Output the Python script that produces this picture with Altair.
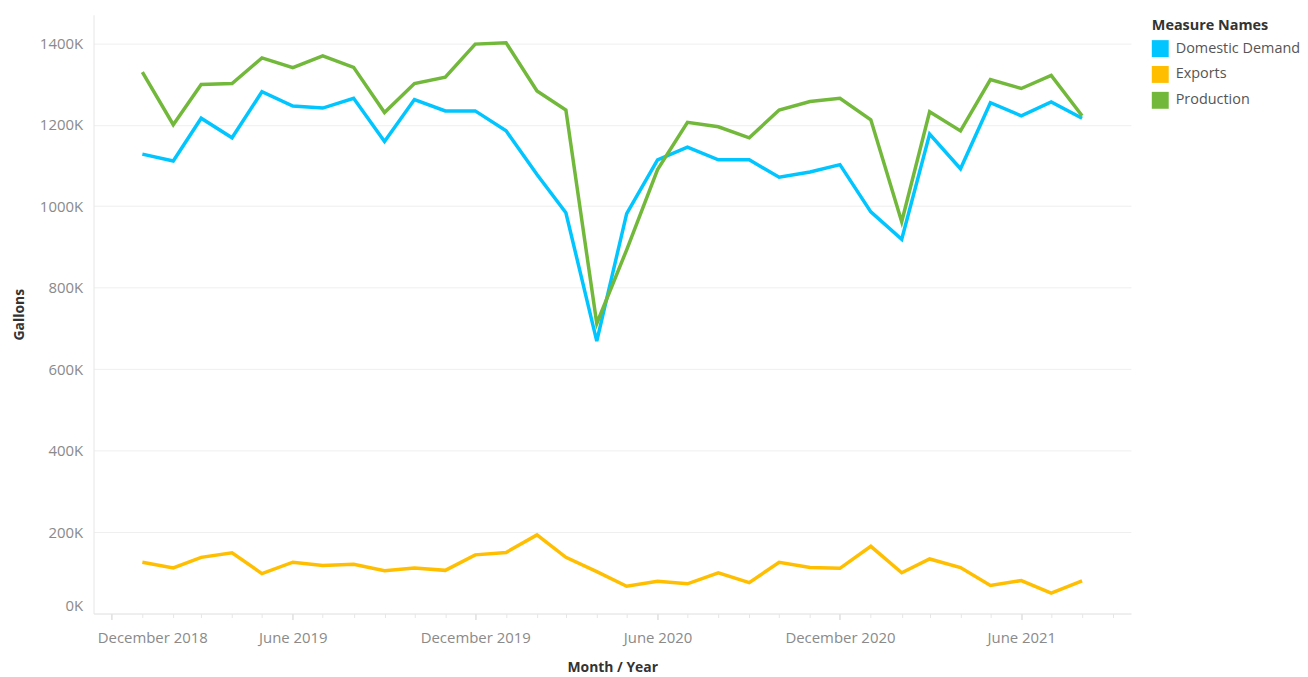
import altair as alt
import pandas as pd

months = pd.date_range("2019-01-01", "2021-08-01", freq="MS").strftime("%Y-%m-%d").tolist()

domestic_demand = [1128, 1111, 1216, 1168, 1281, 1246, 1241, 1265, 1159, 1262, 1234, 1234,
                   1185, 1078, 984, 669, 982, 1114, 1145, 1114, 1114, 1071, 1084, 1102,
                   986, 919, 1177, 1092, 1254, 1222, 1256, 1216]
exports = [126, 112, 138, 149, 98, 126, 118, 121, 105, 112, 106, 144,
           150, 193, 138, 103, 67, 79, 73, 100, 76, 126, 113, 111,
           165, 100, 134, 113, 69, 81, 50, 80]
production = [1329, 1200, 1299, 1301, 1364, 1340, 1369, 1341, 1230, 1301, 1317, 1398,
              1401, 1283, 1236, 712, 893, 1090, 1206, 1195, 1168, 1236, 1257, 1265,
              1212, 962, 1232, 1185, 1311, 1289, 1321, 1222]

series = {"Domestic Demand": domestic_demand, "Exports": exports, "Production": production}
colors = ["#00C5FF", "#FFBF00", "#72B83A"]
y_ticks = [0, 200000, 400000, 600000, 800000, 1000000, 1200000, 1400000]

rows = []
for name, vals in series.items():
    for m, v in zip(months, vals):
        rows.append({"Month": m, "Measure Names": name, "Gallons": v * 1000})
df = pd.DataFrame(rows)

tick_dates = pd.date_range("2018-12-01", "2021-09-01", freq="MS")
x_values = [alt.DateTime(year=d.year, month=d.month, date=1, utc=True) for d in tick_dates]

FONT = "Open Sans"
MAJOR = "utcmonth(datum.value)==11 || utcmonth(datum.value)==5"

x_enc = alt.X(
    "Month:T",
    title="Month / Year",
    scale=alt.Scale(
        type="utc",
        domain=[alt.DateTime(year=2018, month=11, date=13, utc=True),
                alt.DateTime(year=2021, month=9, date=19, utc=True)],
    ),
    axis=alt.Axis(
        values=x_values,
        labelExpr="(" + MAJOR + ") ? utcFormat(datum.value, '%B %Y') : ''",
        labelOffset=alt.condition("utcyear(datum.value)==2018", alt.value(41), alt.value(0)),
        tickSize=alt.condition(MAJOR, alt.value(6), alt.value(4)),
        tickColor=alt.condition(MAJOR, alt.value("#cfcfcf"), alt.value("#e6e6e6")),
        labelPadding=11,
        labelFont=FONT, labelFontSize=15, labelColor="#8a8a8a",
        labelOverlap=False,
        grid=False,
        domainColor="#e6e6e6",
        titleFont=FONT, titleFontSize=14, titleFontWeight="bold", titleColor="#333333",
        titleY=47,
    ),
)
y_enc = alt.Y(
    "Gallons:Q",
    title="Gallons",
    scale=alt.Scale(domain=[0, 1470000], nice=False, zero=True),
    axis=alt.Axis(
        values=y_ticks,
        labelExpr="format(datum.value/1000, 'd') + 'K'",
        ticks=False, tickSize=0,
        labelPadding=11,
        labelFlush=True,
        labelFont=FONT, labelFontSize=15, labelColor="#8a8a8a",
        gridColor="#efefef", gridWidth=1,
        domainColor="#e6e6e6",
        titleFont=FONT, titleFontSize=14, titleFontWeight="bold", titleColor="#333333",
        titleX=-67,
    ),
)
color_scale = alt.Scale(domain=list(series.keys()), range=colors)

base = alt.Chart(df)

# legend carrier: filled squares, no data rows drawn
legend_layer = base.transform_filter("false").mark_square(filled=True, opacity=1).encode(
    x=x_enc, y=y_enc,
    color=alt.Color(
        "Measure Names:N",
        scale=color_scale,
        legend=alt.Legend(
            title="Measure Names",
            orient="none", legendX=1064, legendY=4,
            symbolType="square", symbolSize=289, symbolStrokeWidth=0,
            symbolOpacity=1,
            labelFont=FONT, labelFontSize=14.5, labelColor="#555555",
            titleFont=FONT, titleFontSize=14.5, titleFontWeight="bold", titleColor="#333333",
            titlePadding=7, rowPadding=9, labelOffset=7,
        ),
    ),
)

lines = base.mark_line(strokeWidth=3.5).encode(
    x=x_enc, y=y_enc,
    color=alt.Color("Measure Names:N", scale=color_scale, legend=None),
)

chart = alt.layer(legend_layer, lines).properties(
    width=1043, height=602,
    autosize=alt.AutoSizeParams(type="none"),
    padding={"left": 86, "top": 5, "right": 170, "bottom": 62},
).configure_view(stroke=None)

chart.save("out.html", embed_options={"renderer": "svg", "actions": False})
